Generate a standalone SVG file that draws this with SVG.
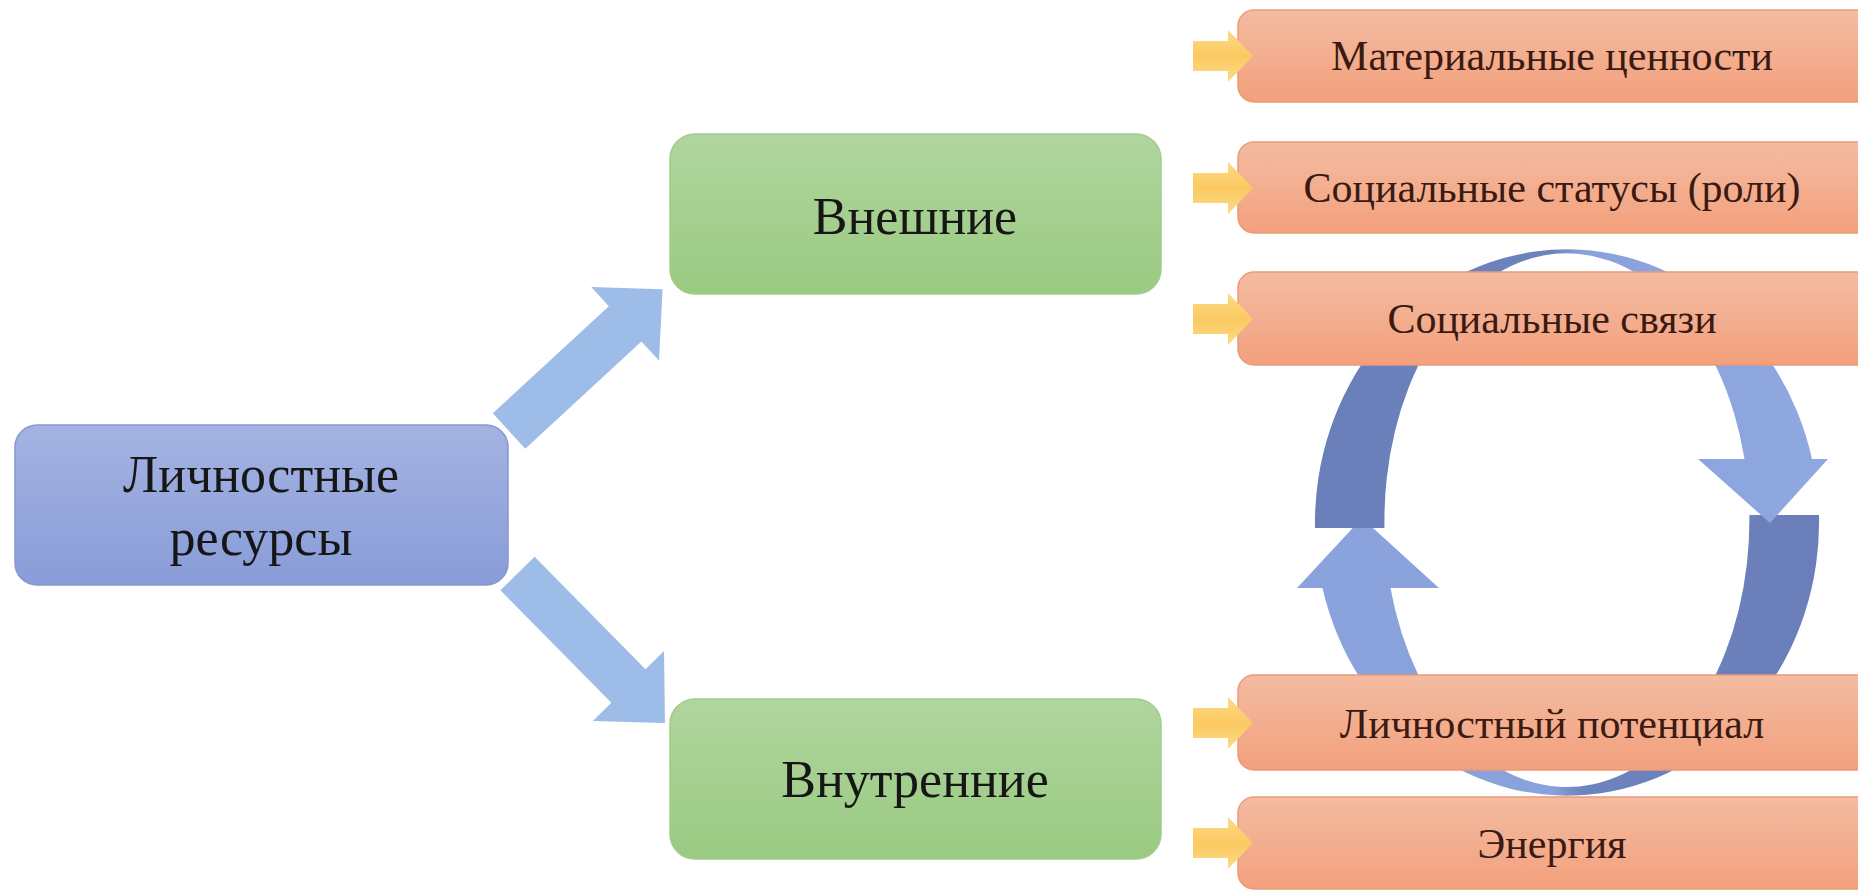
<svg xmlns="http://www.w3.org/2000/svg" width="1858" height="891" viewBox="0 0 1858 891">
<defs>
<linearGradient id="gBlue" x1="0" y1="0" x2="0" y2="1"><stop offset="0" stop-color="#a4b3e2"/><stop offset="1" stop-color="#899cd8"/></linearGradient>
<linearGradient id="gGreen" x1="0" y1="0" x2="0" y2="1"><stop offset="0" stop-color="#b0d59e"/><stop offset="1" stop-color="#9aca82"/></linearGradient>
<linearGradient id="gOrange" x1="0" y1="0" x2="0" y2="1"><stop offset="0" stop-color="#f3bca2"/><stop offset="1" stop-color="#f3a07c"/></linearGradient>
<linearGradient id="gYellow" x1="0" y1="0" x2="0" y2="1"><stop offset="0" stop-color="#fddb85"/><stop offset="0.5" stop-color="#fbc962"/><stop offset="1" stop-color="#fddb85"/></linearGradient>
<linearGradient id="gCycA" gradientUnits="userSpaceOnUse" x1="1315" y1="0" x2="1820" y2="0"><stop offset="0" stop-color="#6a7fb9"/><stop offset="0.47" stop-color="#6d83bd"/><stop offset="0.53" stop-color="#8aa2dc"/><stop offset="1" stop-color="#90a8e0"/></linearGradient>
<linearGradient id="gCycB" gradientUnits="userSpaceOnUse" x1="1315" y1="0" x2="1820" y2="0"><stop offset="0" stop-color="#8ba3dd"/><stop offset="0.47" stop-color="#8aa2dc"/><stop offset="0.53" stop-color="#6d83bd"/><stop offset="1" stop-color="#6a7fb9"/></linearGradient>
</defs>
<style>
.txt{font-family:"Liberation Serif","Times New Roman",serif;text-anchor:middle;}
.big{font-size:52px;fill:#161616;}
.small{font-size:42px;fill:#3a1a12;}
.blue{fill:url(#gBlue);stroke:#8898cc;stroke-width:1.5;}
.green{fill:url(#gGreen);stroke:#a2cb8c;stroke-width:1.5;}
.orange{fill:url(#gOrange);stroke:#eb9a76;stroke-width:1.5;}
.yarrow{fill:url(#gYellow);}
.barrow{fill:#9dbce7;}
</style>
<rect width="1858" height="891" fill="#ffffff"/>

<g id="connectors">
  <polygon class="barrow" transform="translate(509,431) rotate(-42.7)" points="0,-24 158,-24 158,-50 209,0 158,50 158,24 0,24"/>
  <polygon class="barrow" transform="translate(517.5,573.5) rotate(45.4)" points="0,-24 158,-24 158,-50 210,0 158,50 158,24 0,24"/>
  <g id="cycle">
    <path fill="url(#gCycB)" d="M1819,515 A252,273.5 0 0 1 1322.5,588 L1297,588 L1362,518 L1439,588 L1390.5,588 A182.5,267.5 0 0 0 1749.4,515 Z"/>
    <path fill="url(#gCycA)" d="M1315,528 A252,273.5 0 0 1 1812,459 L1828,459 L1770,523 L1698,459 L1744.5,459 A182.5,267.5 0 0 0 1384.5,528 Z"/>
  </g>
</g>

<g id="node-lichnostnye">
  <rect class="blue" x="15" y="425" width="493" height="160" rx="22"/>
  <text class="txt big" x="261" y="492">Личностные</text>
  <text class="txt big" x="261" y="555">ресурсы</text>
</g>
<g id="node-vneshnie">
  <rect class="green" x="670" y="134" width="491" height="160" rx="25"/>
  <text class="txt big" x="915" y="234">Внешние</text>
</g>
<g id="node-vnutrennie">
  <rect class="green" x="670" y="699" width="491" height="160" rx="25"/>
  <text class="txt big" x="915" y="797">Внутренние</text>
</g>
<g id="node-material">
  <rect class="orange" x="1238" y="10" width="640" height="92" rx="16"/>
  <text class="txt small" x="1552" y="70">Материальные ценности</text>
</g>
<g id="node-statusy">
  <rect class="orange" x="1238" y="142" width="640" height="91" rx="16"/>
  <text class="txt small" x="1552" y="202">Социальные статусы (роли)</text>
</g>
<g id="node-svyazi">
  <rect class="orange" x="1238" y="272" width="640" height="93" rx="16"/>
  <text class="txt small" x="1552" y="333">Социальные связи</text>
</g>
<g id="node-potencial">
  <rect class="orange" x="1238" y="675" width="640" height="95" rx="16"/>
  <text class="txt small" x="1552" y="738">Личностный потенциал</text>
</g>
<g id="node-energiya">
  <rect class="orange" x="1238" y="797" width="640" height="92" rx="16"/>
  <text class="txt small" x="1552" y="858">Энергия</text>
</g>

<g id="connectors-inputs">
  <polygon class="yarrow" points="1193,41 1228,41 1228,30 1253,56 1228,82 1228,71 1193,71"/>
  <polygon class="yarrow" points="1193,173 1228,173 1228,162 1253,188 1228,214 1228,203 1193,203"/>
  <polygon class="yarrow" points="1193,304 1228,304 1228,293 1253,319 1228,345 1228,334 1193,334"/>
  <polygon class="yarrow" points="1193,708 1228,708 1228,697 1253,723 1228,749 1228,738 1193,738"/>
  <polygon class="yarrow" points="1193,828 1228,828 1228,817 1253,843 1228,869 1228,858 1193,858"/>
</g>
</svg>
